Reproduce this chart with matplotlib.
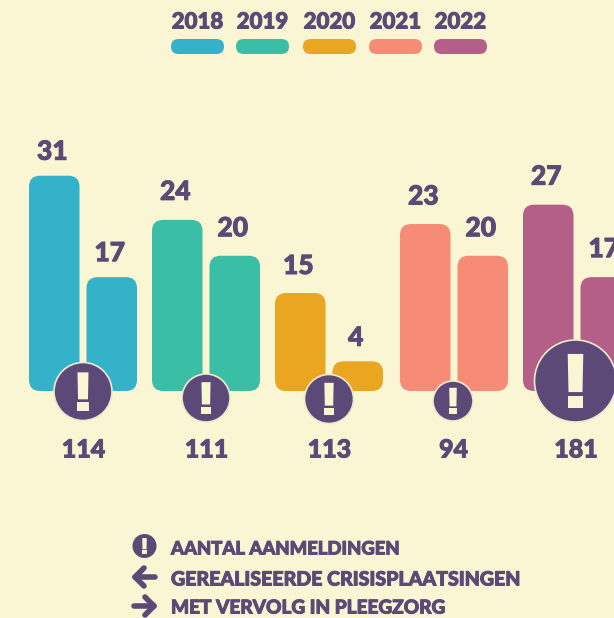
import matplotlib
matplotlib.use('Agg')
import matplotlib.pyplot as plt
import matplotlib.patheffects as pe
from matplotlib.patches import Circle, FancyBboxPatch, Polygon

years = ['2018', '2019', '2020', '2021', '2022']
# printed values
crisis = [31, 24, 15, 23, 27]
foster = [17, 20, 4, 20, 17]
signups = [114, 111, 113, 94, 181]
# the bars in the picture are not quite to scale, so these are the heights as drawn
crisis_drawn = [31.2, 24.8, 14.2, 24.2, 27.0]
foster_drawn = [16.5, 19.6, 4.3, 19.6, 16.5]
legend_rows = ['AANTAL AANMELDINGEN', 'GEREALISEERDE CRISISPLAATSINGEN', 'MET VERVOLG IN PLEEGZORG']

colors = ['#34B2C9', '#3ABFA6', '#EAA521', '#F78C76', '#B45F88']
purple = '#5C4977'
cream = '#FAF5D2'
font = 'Lato'
heavy = [pe.withStroke(linewidth=0.7, foreground=purple)]

# pixels per unit and where the baseline sits
scale = 6.9
base = 391
bar_w = 50.5
group_x = [29, 152, 275, 400, 523]
bubble_x = [83, 206, 329, 453, 575.5]
bubble_y = [391.5, 398, 399, 401, 381]
bubble_r = [29, 24, 24.5, 20, 41]
swatch_x = [171, 236, 303, 369, 434]
legend_sizes = [13.3, 14.1, 13.7]
# gap in pixels between a bar top and its label
crisis_gap = [24, 28, 27, 27.5, 28]
foster_gap = [24, 27.5, 23.5, 27.5, 28]

def bang(ax, x, y, r):
    # exclamation mark, sized from the circle radius
    w = 0.19 * r
    ax.add_patch(Polygon([(x - w, y - 0.66 * r), (x + w, y - 0.66 * r), (x + 0.9 * w, y + 0.27 * r),
                          (x - 0.9 * w, y + 0.27 * r)], fc=cream, ec='none', zorder=6))
    ax.add_patch(Polygon([(x - w, y + 0.36 * r), (x + w, y + 0.36 * r), (x + w, y + 0.66 * r),
                          (x - w, y + 0.66 * r)], fc=cream, ec='none', zorder=6))

fig = plt.figure(figsize=(6.14, 6.18), dpi=100, facecolor=cream)

ax = fig.add_axes([0, 0, 1, 1])
ax.set_xlim(0, 614)
ax.set_ylim(-(618 - base) / scale, base / scale)
ax.axis('off')

over = fig.add_axes([0, 0, 1, 1])
over.set_xlim(0, 614)
over.set_ylim(618, 0)
over.axis('off')

for i in range(5):
    pairs = [(group_x[i], crisis[i], crisis_drawn[i], crisis_gap[i]),
             (group_x[i] + 57.5, foster[i], foster_drawn[i], foster_gap[i])]
    for x, v, h, gap in pairs:
        ax.add_patch(FancyBboxPatch((x, 0), bar_w, h, boxstyle='round,pad=0,rounding_size=11',
                                    mutation_aspect=1 / scale, fc=colors[i], ec='none'))
        ax.annotate(str(v), (x + bar_w / 2 - 2, h), xytext=(0, gap * 0.72), textcoords='offset points',
                    ha='center', va='center', fontsize=19, fontweight='black', family=font, color=purple,
                    path_effects=heavy)
    over.add_patch(Circle((bubble_x[i], bubble_y[i]), bubble_r[i], fc=purple, ec='#EFE9CF', lw=1.2, zorder=5))
    bang(over, bubble_x[i], bubble_y[i], bubble_r[i])
    over.text(bubble_x[i] + 0.5, 450, str(signups[i]), ha='center', va='center', fontsize=18,
              fontweight='black', family=font, color=purple, path_effects=heavy)
    over.add_patch(FancyBboxPatch((swatch_x[i], 39), 53, 15, boxstyle='round,pad=0,rounding_size=7.5',
                                  fc=colors[i], ec='none'))
    over.text(swatch_x[i] + 26.5, 22, years[i], ha='center', va='center', fontsize=16,
              fontweight='black', family=font, color=purple, path_effects=heavy)

# legend rows
over.add_patch(Circle((144.5, 546), 12, fc=purple, ec='none'))
bang(over, 144.5, 546, 12)
over.plot([135, 155], [577, 577], color=purple, lw=4, solid_capstyle='round')
over.plot([144, 135, 144], [568, 577, 586], color=purple, lw=4, solid_capstyle='round')
over.plot([134, 154], [606, 606], color=purple, lw=4, solid_capstyle='round')
over.plot([145, 154, 145], [597, 606, 615], color=purple, lw=4, solid_capstyle='round')
for label, y, size in zip(legend_rows, [549, 579, 608], legend_sizes):
    over.text(171, y, label, ha='left', va='center', fontsize=size, fontweight='black', family=font,
              color=purple, path_effects=heavy)

fig.savefig('out.png', dpi=100, facecolor=cream)
